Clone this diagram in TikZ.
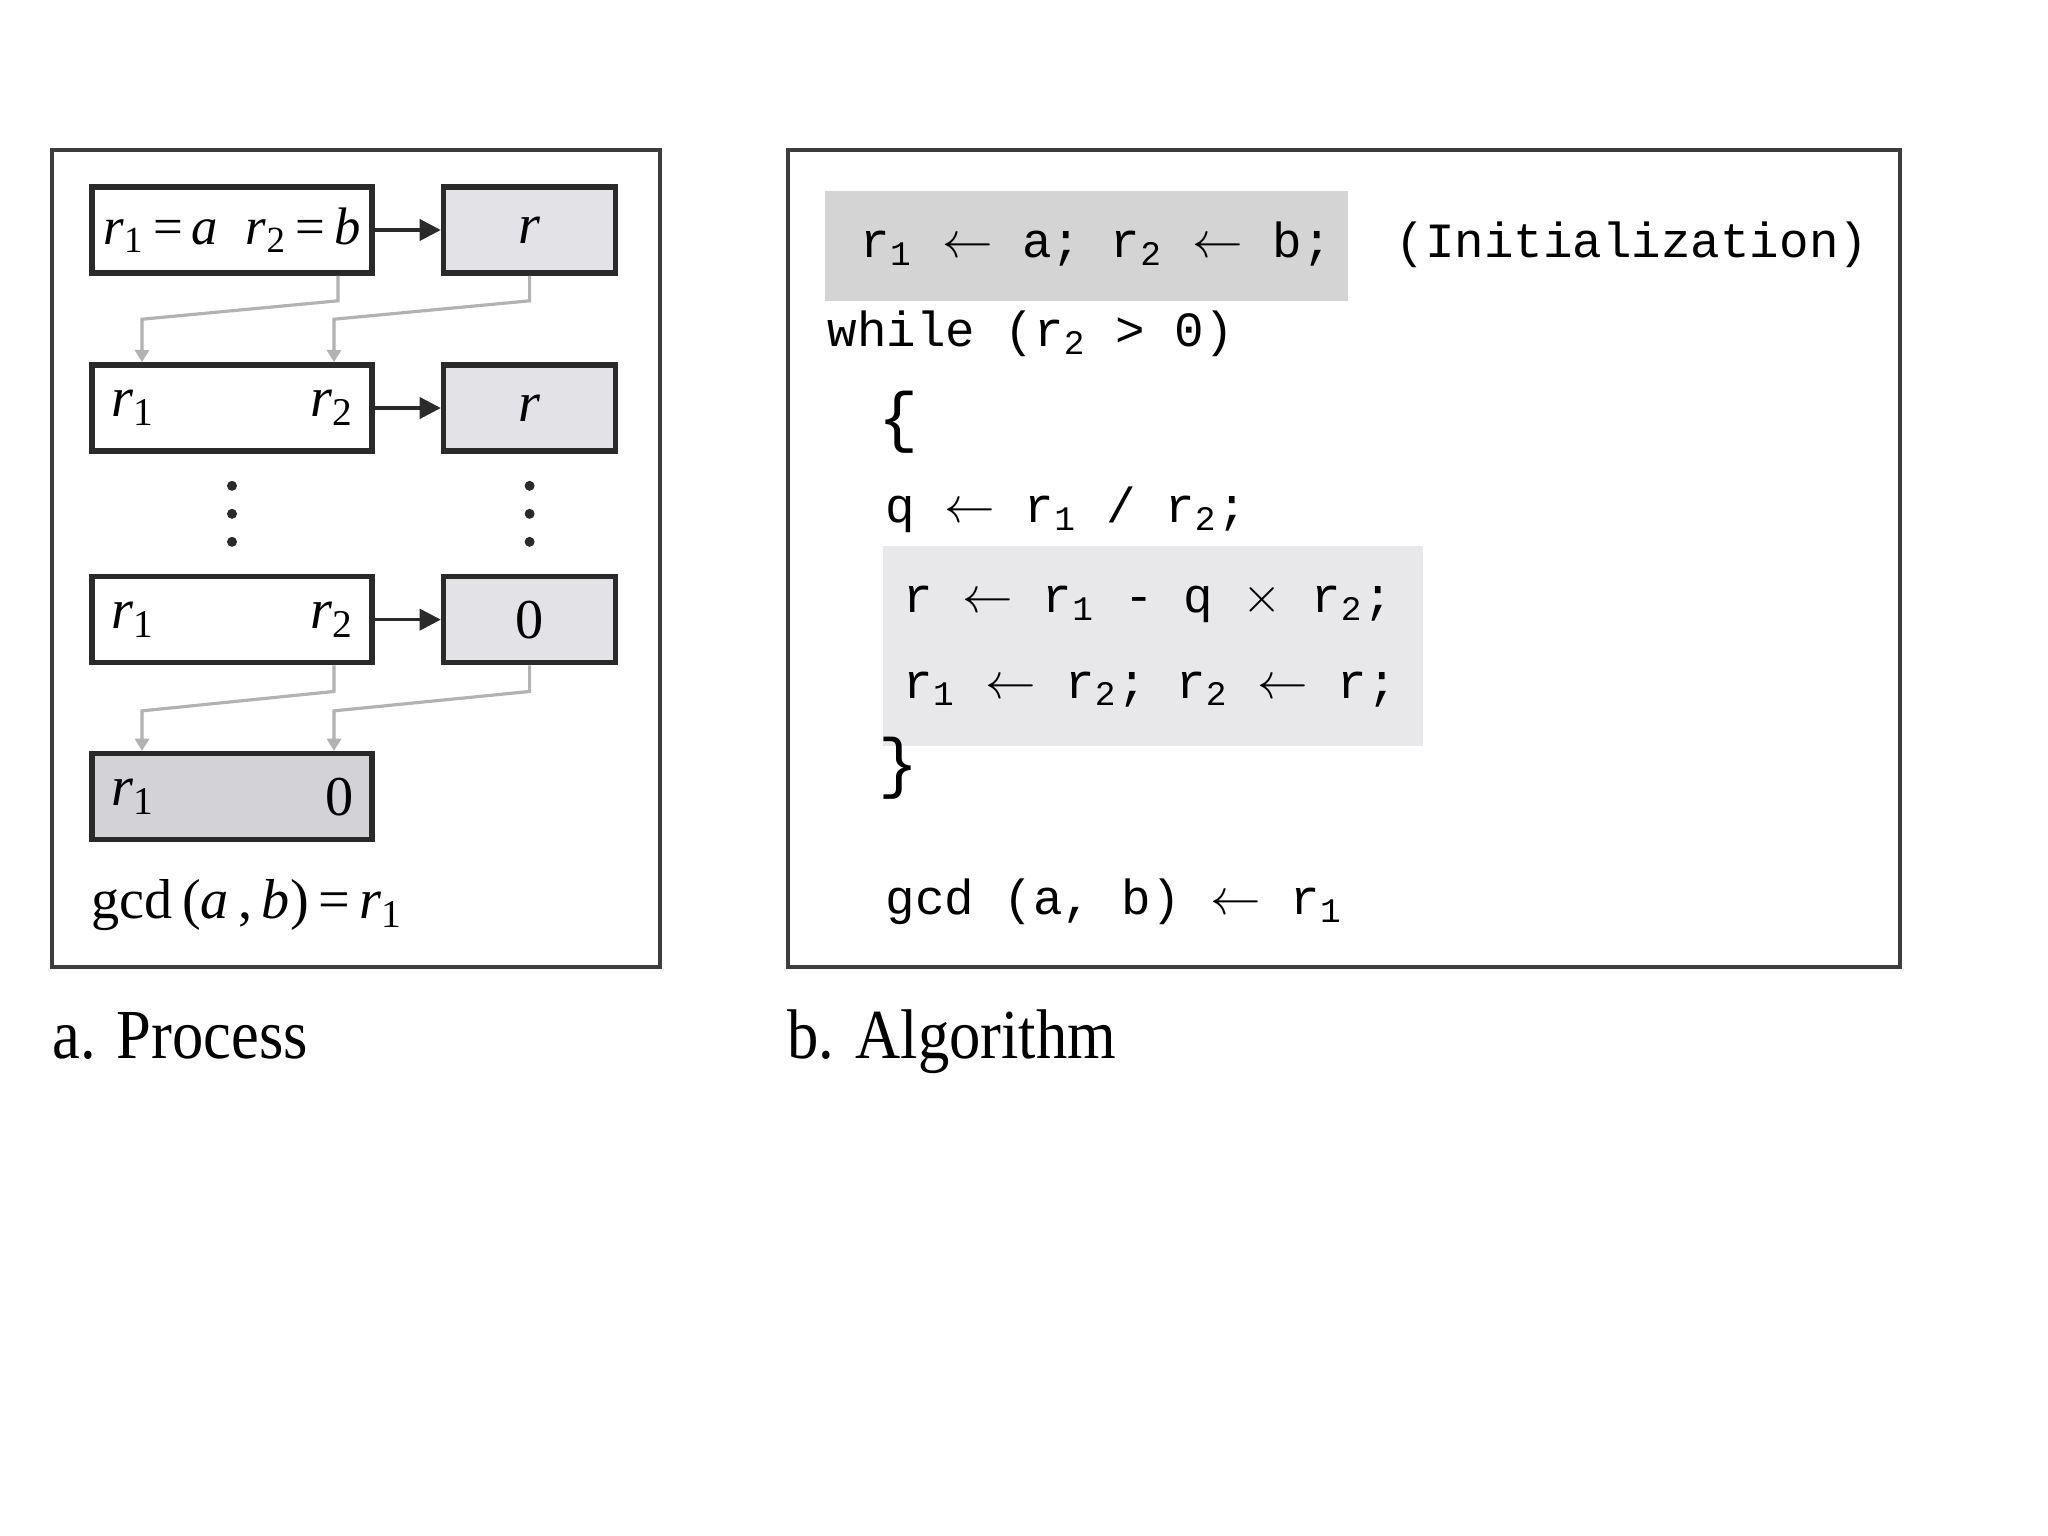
\documentclass[tikz,border=0pt]{standalone}
\usepackage{fontspec}
\setmainfont{Liberation Serif}
\setmonofont{Liberation Mono}
\usetikzlibrary{arrows.meta, positioning}

\definecolor{framegray}{HTML}{3C3C3C}
\definecolor{boxdark}{HTML}{2A2A2A}
\definecolor{remfill}{HTML}{E3E3E7}
\definecolor{endfill}{HTML}{D3D3D7}
\definecolor{initfill}{HTML}{D4D4D4}
\definecolor{bodyfill}{HTML}{E8E8EA}
\definecolor{flowgray}{HTML}{B2B2B2}

\newcommand{\itr}[1]{\textit{r}\textsubscript{#1}}
\newcommand{\ttr}[1]{r\textsubscript{#1}}
\newcommand{\lar}{$\leftarrow$}

\begin{document}
\begin{tikzpicture}[
    node distance=0.864cm and 0.66cm,
    frame/.style={
        draw=framegray,
        line width=1.4pt
    },
    regbox/.style={
        draw=boxdark,
        fill=white,
        line width=1.6pt,
        minimum width=2.80cm,
        minimum height=0.86cm,
        inner sep=0pt,
        font=\fontsize{16}{19}\selectfont
    },
    rembox/.style={
        regbox,
        fill=remfill,
        minimum width=1.72cm
    },
    val/.style={
        inner sep=0pt,
        font=\fontsize{16}{19}\selectfont
    },
    shade/.style={
        inner sep=0pt,
        anchor=north west
    },
    code/.style={
        anchor=base west,
        inner sep=0pt,
        font=\fontsize{14}{17}\selectfont\ttfamily
    },
    brace/.style={
        code,
        font=\fontsize{19}{22}\selectfont\ttfamily
    },
    caption/.style={
        anchor=base west,
        inner sep=0pt,
        font=\fontsize{20}{24}\selectfont
    },
    push/.style={
        -{Triangle[length=6pt,width=6pt]},
        line width=1pt,
        draw=boxdark
    },
    flow/.style={
        -{Triangle[length=3.5pt,width=4pt]},
        line width=0.9pt,
        draw=flowgray
    }
]

% Canvas and frames
\path[use as bounding box, fill=white] (0,0) rectangle (20.48,-15.36);
\draw[frame] (0.52,-1.50) rectangle (6.60,-9.67);
\draw[frame] (7.88,-1.50) rectangle (19.00,-9.67);

% Process nodes
\node (start) [regbox, font=\fontsize{15}{18}\selectfont] at (2.32,-2.30) {\itr{1}\,=\,\textit{a}\; \itr{2}\,=\,\textit{b}};
\node (rem1) [rembox, right=of start] {\textit{r}};
\node (pair2) [regbox, below=of start] {};
\node (rem2) [rembox, right=of pair2] {\textit{r}};
\node (pair3) [regbox, below=1.20cm of pair2] {};
\node (rem3) [rembox, right=of pair3] {0};
\node (last) [regbox, fill=endfill, below=0.854cm of pair3] {};

\node (p2a) [val, anchor=west] at ([xshift=0.22cm]pair2.west) {\itr{1}};
\node (p2b) [val, anchor=east] at ([xshift=-0.20cm]pair2.east) {\itr{2}};
\node (p3a) [val, anchor=west] at ([xshift=0.22cm]pair3.west) {\itr{1}};
\node (p3b) [val, anchor=east] at ([xshift=-0.20cm]pair3.east) {\itr{2}};
\node (lasta) [val, anchor=west] at ([xshift=0.22cm]last.west) {\itr{1}};
\node (lastb) [val, anchor=east] at ([xshift=-0.20cm]last.east) {0};
\node (gcdres) [val, anchor=base west] at (0.91,-9.18) {gcd\,(\textit{a}\,,\,\textit{b})\,=\,\itr{1}};

% Dots
\path (pair2) -- coordinate[midway] (gapL) (pair3);
\path (rem2) -- coordinate[midway] (gapR) (rem3);
\foreach \d in {-0.28,0,0.28} {
    \fill[boxdark] ([yshift=\d cm]gapL) circle (0.05);
    \fill[boxdark] ([yshift=\d cm]gapR) circle (0.05);
}

% Paths
\draw [push] (start) -- (rem1);
\draw [push] (pair2) -- (rem2);
\draw [push] (pair3) -- (rem3);
\draw [flow] ([xshift=1.06cm]start.south) -- ++(0,-0.25) -- ([xshift=-0.90cm,yshift=0.43cm]pair2.north) -- ([xshift=-0.90cm]pair2.north);
\draw [flow] (rem1.south) -- ++(0,-0.25) -- ([xshift=1.02cm,yshift=0.43cm]pair2.north) -- ([xshift=1.02cm]pair2.north);
\draw [flow] ([xshift=1.02cm]pair3.south) -- ++(0,-0.26) -- ([xshift=-0.90cm,yshift=0.40cm]last.north) -- ([xshift=-0.90cm]last.north);
\draw [flow] (rem3.south) -- ++(0,-0.26) -- ([xshift=1.02cm,yshift=0.40cm]last.north) -- ([xshift=1.02cm]last.north);

% Algorithm
\node (initbg) [shade, fill=initfill, minimum width=5.23cm, minimum height=1.10cm] at (8.24,-1.90) {};
\node (bodybg) [shade, fill=bodyfill, minimum width=5.40cm, minimum height=2.00cm] at (8.82,-5.45) {};
\node (initln) [code] at (8.60,-2.58) {\ttr{1} \lar{} a; \ttr{2} \lar{} b;};
\node (initnote) [code] at (13.95,-2.58) {(Initialization)};
\node (whileln) [code] at (8.27,-3.47) {while (\ttr{2} > 0)};
\node (openbr) [brace] at (8.78,-4.40) {\{};
\node (quotln) [code] at (8.85,-5.23) {q \lar{} \ttr{1} / \ttr{2};};
\node (remln) [code] at (9.03,-6.13) {r \lar{} \ttr{1} - q $\times$ \ttr{2};};
\node (swapln) [code] at (9.03,-6.98) {\ttr{1} \lar{} \ttr{2}; \ttr{2} \lar{} r;};
\node (closebr) [brace] at (8.78,-7.85) {\}};
\node (gcdln) [code] at (8.85,-9.15) {gcd (a, b) \lar{} \ttr{1}};

% Captions
\node (capa) [caption] at (0.52,-10.58) {\scalebox{0.89}[1]{a. Process}};
\node (capb) [caption] at (7.87,-10.58) {\scalebox{0.89}[1]{b. Algorithm}};

\end{tikzpicture}
\end{document}
